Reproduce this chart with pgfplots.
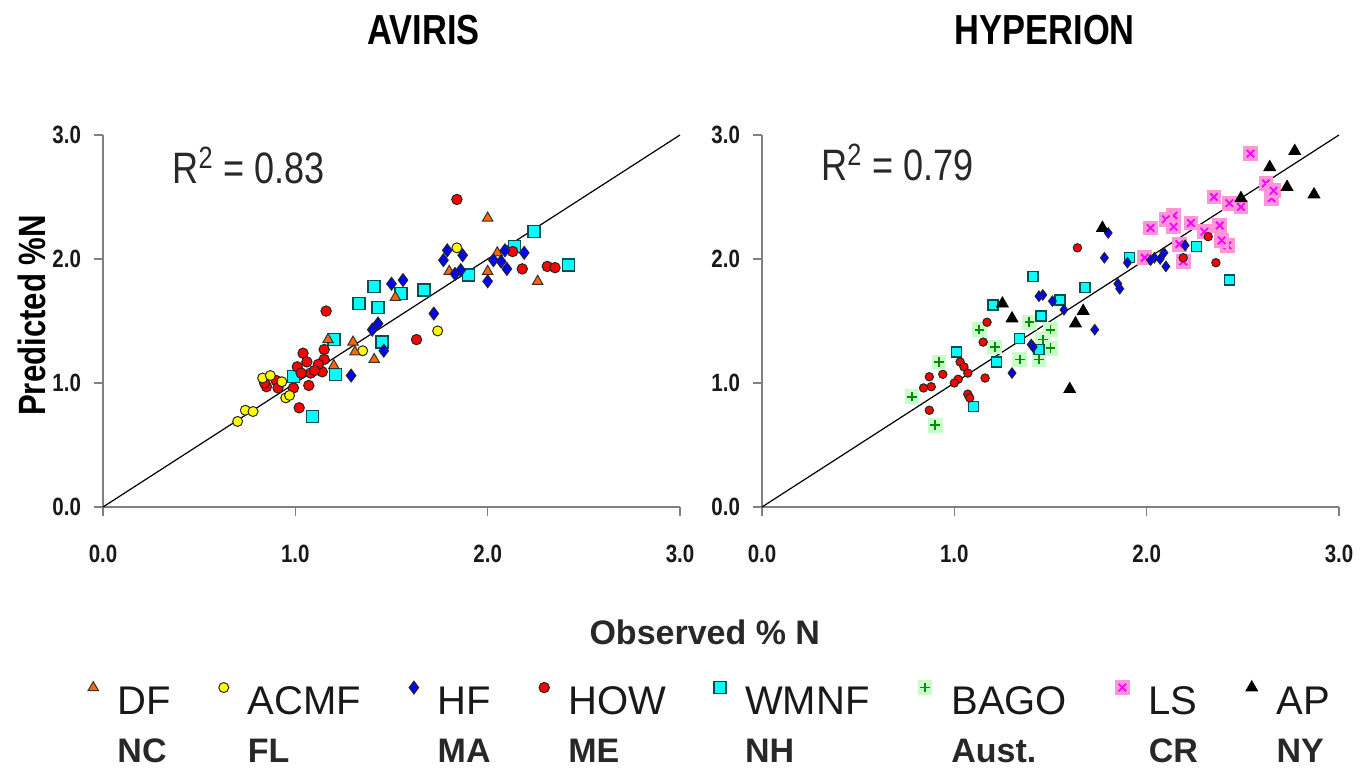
\documentclass[border=0pt]{standalone}
\usepackage{pgfplots}
\pgfplotsset{compat=1.18}
\usepackage{fontspec}
\setmainfont{Liberation Sans}
\newfontfamily\nf[FakeStretch=0.82]{Liberation Sans}

\definecolor{dforange}{RGB}{255,102,0}
\definecolor{acmfyellow}{RGB}{255,255,0}
\definecolor{hfblue}{RGB}{0,0,255}
\definecolor{howred}{RGB}{255,0,0}
\definecolor{wmcyan}{RGB}{0,255,255}
\definecolor{wmedge}{RGB}{0,80,80}
\definecolor{bagobg}{RGB}{200,255,200}
\definecolor{bagofg}{RGB}{0,140,0}
\definecolor{lsbg}{RGB}{255,150,215}
\definecolor{lsfg}{RGB}{255,0,255}
\definecolor{txt}{RGB}{40,40,40}

\pgfdeclareplotmark{bago}{%
  \pgfpathrectangle{\pgfpoint{-\pgfplotmarksize}{-\pgfplotmarksize}}{\pgfpoint{2\pgfplotmarksize}{2\pgfplotmarksize}}%
  \pgfsetfillcolor{bagobg}\pgfusepathqfill
  \pgfpathmoveto{\pgfpoint{-0.65\pgfplotmarksize}{0pt}}\pgfpathlineto{\pgfpoint{0.65\pgfplotmarksize}{0pt}}%
  \pgfpathmoveto{\pgfpoint{0pt}{-0.65\pgfplotmarksize}}\pgfpathlineto{\pgfpoint{0pt}{0.65\pgfplotmarksize}}%
  \pgfsetlinewidth{0.9pt}\pgfsetstrokecolor{bagofg}\pgfusepathqstroke}
\pgfdeclareplotmark{ls}{%
  \pgfpathrectangle{\pgfpoint{-\pgfplotmarksize}{-\pgfplotmarksize}}{\pgfpoint{2\pgfplotmarksize}{2\pgfplotmarksize}}%
  \pgfsetfillcolor{lsbg}\pgfusepathqfill
  \pgfpathmoveto{\pgfpoint{-0.5\pgfplotmarksize}{-0.5\pgfplotmarksize}}\pgfpathlineto{\pgfpoint{0.5\pgfplotmarksize}{0.5\pgfplotmarksize}}%
  \pgfpathmoveto{\pgfpoint{-0.5\pgfplotmarksize}{0.5\pgfplotmarksize}}\pgfpathlineto{\pgfpoint{0.5\pgfplotmarksize}{-0.5\pgfplotmarksize}}%
  \pgfsetlinewidth{0.9pt}\pgfsetstrokecolor{lsfg}\pgfusepathqstroke}

\pgfplotsset{
  myaxis/.style={
    scale only axis, width=288.5pt, height=186pt, anchor=south west,
    xmin=0, xmax=3, ymin=0, ymax=3, enlargelimits=false, clip=false,
    axis x line*=bottom, axis y line*=left,
    axis line style={black!50, line width=1.1pt},
    xtick={0,1,2,3}, ytick={0,1,2,3},
    xticklabels={0.0,1.0,2.0,3.0}, yticklabels={0.0,1.0,2.0,3.0},
    tick align=outside, major tick length=4.5pt,
    tick style={black!50, line width=0.8pt},
    tick label style={font=\nf\bfseries\fontsize{12.5}{14}\selectfont, text=black!90},
    xticklabel style={yshift=-11pt}, yticklabel style={xshift=-3pt},
    title style={font=\nf\bfseries\fontsize{21}{24}\selectfont, anchor=center},
  },
  df/.style={only marks, mark=triangle*, mark size=3pt, mark options={fill=dforange, draw=black!80, line width=0.5pt}},
  acmf/.style={only marks, mark=*, mark size=2.5pt, mark options={fill=acmfyellow, draw=black!85, line width=0.5pt}},
  hf/.style={only marks, mark=diamond*, mark size=3.2pt, mark options={fill=hfblue, draw=black!85, line width=0.5pt}},
  how/.style={only marks, mark=*, mark size=2.6pt, mark options={fill=howred, draw=black!85, line width=0.5pt}},
  wmnf/.style={only marks, mark=square*, mark size=3pt, mark options={fill=wmcyan, draw=wmedge, line width=0.7pt}},
  bago/.style={only marks, mark=bago, mark size=3.7pt},
  ls/.style={only marks, mark=ls, mark size=3.7pt},
  ap/.style={only marks, mark=triangle*, mark size=3.4pt, mark options={fill=black, draw=black, line width=0.4pt}},
  legmark/.style={legend image code/.code={\draw[##1] plot coordinates {(0pt,12pt)};}},
}
\newcommand{\legtab}[2]{\fontsize{20}{24}\selectfont\color{black!90}\begin{tabular}{@{}l@{}}#1\\{\bfseries\fontsize{17}{24}\selectfont\color{txt}#2}\end{tabular}}

\begin{document}
\begin{tikzpicture}
\path[use as bounding box] (0,0) rectangle (680pt,384.5pt);

\begin{axis}[myaxis, at={(51.5pt,131pt)},
  title={AVIRIS}, title style={at={(0.556,1.25)}},
  ylabel={Predicted \%N},
  ylabel style={at={(-0.123,0.515)}, anchor=center, font=\nf\bfseries\fontsize{19}{22}\selectfont},
  xlabel={Observed \% N},
  xlabel style={at={(1.043,-0.336)}, anchor=center, font=\bfseries\fontsize{17}{20}\selectfont, text=txt},
]
\addplot[black, line width=0.6pt, forget plot] coordinates {(0,0) (3,3)};
% WMNF
\addplot[wmnf] coordinates {(2.24,2.22) (1.90,1.87) (2.14,2.10) (2.42,1.95) (1.41,1.78) (1.55,1.72) (1.67,1.75)
 (1.33,1.64) (1.43,1.61) (1.45,1.33) (1.20,1.35) (1.21,1.07) (0.99,1.05) (1.09,0.73)};
% HOW
\addplot[how] coordinates {(1.84,2.48) (2.13,2.06) (2.18,1.92) (2.31,1.94) (2.35,1.93) (1.16,1.58) (1.63,1.35)
 (1.04,1.24) (1.06,1.17) (1.01,1.13) (1.15,1.27) (1.15,1.19) (1.14,1.09) (1.08,1.08) (1.07,0.98)
 (0.99,0.96) (1.02,0.80) (0.85,0.97) (0.84,1.00) (0.90,1.02) (0.91,0.96) (1.03,1.08) (1.12,1.15) (1.10,1.10)};
% ACMF
\addplot[acmf] coordinates {(1.84,2.09) (1.74,1.42) (1.35,1.26) (0.83,1.04) (0.87,1.06) (0.93,1.01) (0.95,0.88)
 (0.97,0.90) (0.74,0.78) (0.78,0.77) (0.70,0.69)};
% DF
\addplot[df] coordinates {(2.00,2.33) (1.80,1.90) (2.00,1.90) (2.05,2.05) (2.26,1.82) (1.52,1.69) (1.17,1.35)
 (1.30,1.33) (1.31,1.25) (1.41,1.19) (1.20,1.14)};
% HF
\addplot[hf] coordinates {(1.79,2.07) (1.87,2.03) (1.77,1.99) (1.86,1.91) (1.83,1.88) (2.03,1.99) (2.09,2.07)
 (2.10,1.92) (2.07,1.98) (2.19,2.05) (2.00,1.82) (1.50,1.80) (1.56,1.83) (1.72,1.56) (1.43,1.48)
 (1.40,1.43) (1.46,1.26) (1.29,1.06)};
\node[anchor=west, inner sep=0pt, font=\nf\fontsize{22}{26}\selectfont, text=txt] at (rel axis cs:0.12,0.917) {R\textsuperscript{2} = 0.83};
\end{axis}

\begin{axis}[myaxis, at={(381pt,131pt)},
  title={HYPERION}, title style={at={(0.49,1.25)}},
  legend columns=8,
  legend cell align=left,
  legend style={at={(-1.168,-0.549)}, anchor=west, draw=none, fill=none, inner sep=0pt, outer sep=0pt,
    nodes={inner sep=0pt, anchor=west},
    /tikz/every even column/.append style={column sep=24pt},
    /tikz/every odd column/.append style={column sep=9.5pt}},
]
\addplot[black, line width=0.6pt, forget plot] coordinates {(0,0) (3,3)};
% BAGO
\addplot[bago, forget plot] coordinates {(1.13,1.43) (1.21,1.29) (1.39,1.49) (1.50,1.43) (1.50,1.28) (1.34,1.19)
 (1.44,1.19) (0.92,1.17) (0.78,0.89) (0.90,0.66) (1.46,1.35)};
% LS
\addplot[ls, forget plot] coordinates {(2.54,2.85) (2.62,2.61) (2.65,2.49) (2.35,2.50) (2.43,2.45) (2.49,2.42)
 (2.14,2.35) (2.10,2.32) (2.23,2.29) (2.02,2.25) (2.38,2.27) (2.14,2.26) (2.42,2.11) (2.39,2.15)
 (2.19,1.98) (1.99,2.01) (2.17,2.12) (2.30,2.22) (2.66,2.55)};
% WMNF
\addplot[wmnf, mark size=2.5pt, forget plot] coordinates {(2.26,2.10) (2.43,1.83) (1.91,2.01) (1.68,1.77) (1.41,1.86)
 (1.55,1.67) (1.45,1.54) (1.34,1.36) (1.20,1.63) (1.44,1.27) (1.22,1.17) (1.01,1.25) (1.10,0.81)};
% HOW
\addplot[how, mark size=2.1pt, forget plot] coordinates {(2.32,2.18) (2.19,2.01) (2.36,1.97) (1.64,2.09) (1.17,1.49)
 (1.15,1.33) (1.03,1.17) (1.05,1.13) (1.07,1.08) (1.02,1.03) (0.94,1.07) (0.87,1.05) (0.88,0.97)
 (0.84,0.96) (1.16,1.04) (1.07,0.91) (1.08,0.88) (0.87,0.78) (1.00,1.00)};
% HF
\addplot[hf, mark size=2.6pt, forget plot] coordinates {(2.20,2.11) (2.09,2.05) (2.10,1.94) (2.04,2.01) (2.02,1.99)
 (1.90,1.97) (1.78,2.01) (1.80,2.21) (1.85,1.80) (1.86,1.76) (1.46,1.71) (1.44,1.70) (1.51,1.66)
 (1.57,1.59) (1.73,1.43) (1.40,1.31) (1.30,1.08) (2.07,2.00) (1.41,1.29)};
% AP
\addplot[ap, forget plot] coordinates {(2.77,2.87) (2.64,2.74) (2.73,2.58) (2.87,2.52) (2.49,2.49) (1.77,2.25)
 (1.67,1.58) (1.63,1.48) (1.30,1.52) (1.25,1.64) (1.60,0.95)};
\node[anchor=west, inner sep=0pt, font=\nf\fontsize{22}{26}\selectfont, text=txt] at (rel axis cs:0.102,0.927) {R\textsuperscript{2} = 0.79};

\addlegendimage{df, legmark}\addlegendentry{\legtab{DF}{NC}}
\addlegendimage{acmf, legmark}\addlegendentry{\legtab{ACMF}{FL}}
\addlegendimage{hf, legmark}\addlegendentry{\legtab{HF}{MA}}
\addlegendimage{how, legmark}\addlegendentry{\legtab{HOW}{ME}}
\addlegendimage{wmnf, legmark}\addlegendentry{\legtab{WMNF}{NH}}
\addlegendimage{bago, legmark}\addlegendentry{\legtab{BAGO}{Aust.}}
\addlegendimage{ls, legmark}\addlegendentry{\legtab{LS}{CR}}
\addlegendimage{ap, legmark}\addlegendentry{\legtab{AP}{NY}}
\end{axis}
\end{tikzpicture}
\end{document}
